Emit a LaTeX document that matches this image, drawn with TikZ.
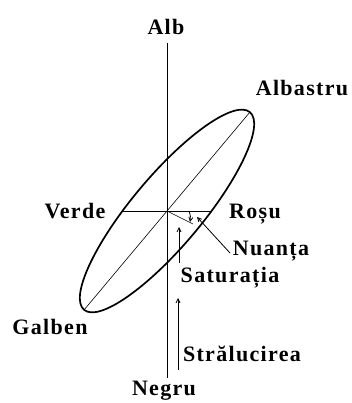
\documentclass[tikz,border=0pt]{standalone}
\usepackage{fontspec}
\setmainfont{Liberation Serif}[LetterSpace=6]
\usetikzlibrary{arrows.meta}
\begin{document}
\begin{tikzpicture}[x=1pt,y=1pt,
  lbl/.style={font=\fontsize{22}{24}\selectfont\bfseries, inner sep=0pt},
  thinline/.style={line width=0.6pt},
  axisline/.style={line width=0.9pt},
  arr/.style={line width=0.8pt, -{Straight Barb[length=4pt,width=4pt]}}]
\useasboundingbox (0,0) rectangle (351,403);
\coordinate (C) at (167,192);
\coordinate (top) at (167,360);
\coordinate (bot) at (167,25);
\coordinate (tipB) at (250,291);
\coordinate (tipG) at (84,93);
\coordinate (hl) at (123,192);
\coordinate (hr) at (212,192);
% ellipse
\draw[line width=1.7pt, rotate around={50:(C)}] (C) ellipse [x radius=129pt, y radius=35pt];
% axes
\draw[axisline] (top) -- (bot);
\draw[thinline] (tipG) -- (tipB);
\draw[axisline] (hl) -- (hr);
% labels
\node[lbl] (alb) at (166,376) {Alb};
\node[lbl] (negru) at (164,12) {Negru};
\node[lbl] (albastru) at (302,315) {Albastru};
\node[lbl] (verde) at (75,192) {Verde};
\node[lbl] (rosu) at (255,189) {Roșu};
\node[lbl] (nuanta) at (271,152) {Nuanța};
\node[lbl] (sat) at (230,125) {Saturația};
\node[lbl] (stral) at (242,49) {Strălucirea};
\node[lbl] (galben) at (50,76) {Galben};
% hue indicator
\coordinate (rad) at (193,179);
\coordinate (a1) at (189,192);
\coordinate (a2) at (190,181);
\draw[thinline] (C) -- (rad);
\draw[arr] (a1) to[bend left=15] (a2);
% Nuanta leader
\coordinate (n1) at (230,150);
\coordinate (n2) at (197,186);
\draw[arr] (n1) -- (n2);
% saturation arrow
\coordinate (s1) at (179,140);
\coordinate (s2) at (179,176);
\draw[arr] (s1) -- (s2);
% brightness arrow
\coordinate (b1) at (178,33);
\coordinate (b2) at (178,105);
\draw[arr] (b1) -- (b2);
\end{tikzpicture}
\end{document}
